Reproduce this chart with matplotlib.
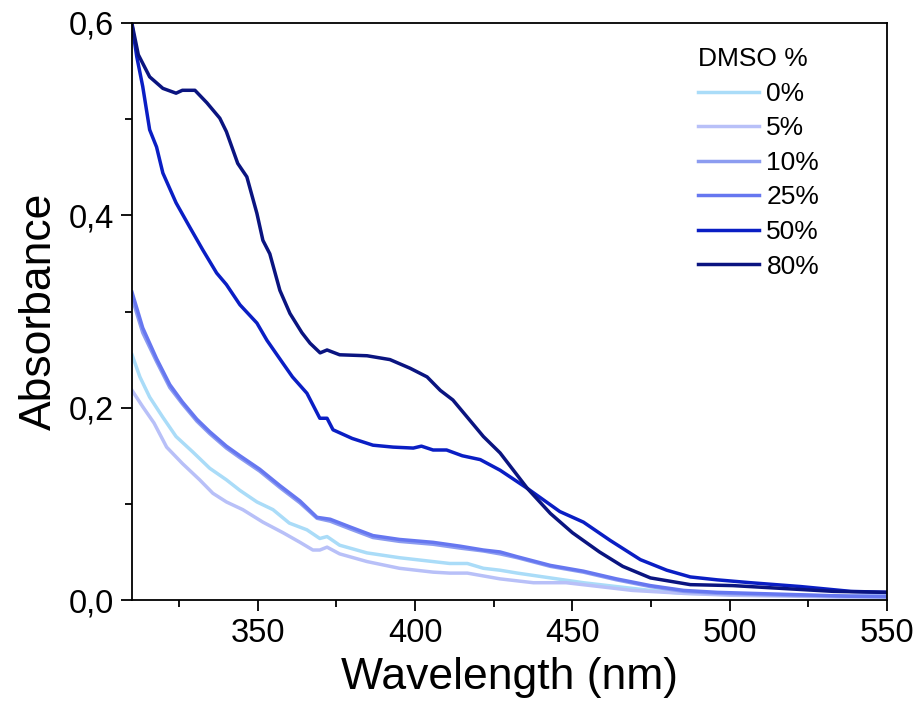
import matplotlib
matplotlib.use("Agg")
import matplotlib.pyplot as plt
from matplotlib.ticker import MultipleLocator, FuncFormatter

plt.rcParams["font.family"] = ["Liberation Sans", "DejaVu Sans"]

labels = ["0%", "5%", "10%", "25%", "50%", "80%"]
colors = ["#aadcf8", "#b8c0f8", "#8c9cf0", "#6677f0", "#0a1ec4", "#0a1480"]

# wavelength (nm) / absorbance
wl_0 = [310, 312.5, 315.6, 319.8, 324, 329.3, 334.7, 340, 344.3, 349.7, 354.8, 360, 365.6,
        369.7, 372, 376, 384.7, 395, 405.7, 411, 416.6, 421.7, 427, 432.5, 443, 453.5, 464,
        474.8, 485, 500, 520, 535, 550]
abs_0 = [0.255, 0.232, 0.211, 0.190, 0.170, 0.154, 0.137, 0.125, 0.114, 0.102, 0.094, 0.080, 0.073,
         0.064, 0.066, 0.057, 0.049, 0.044, 0.040, 0.038, 0.038, 0.033, 0.031, 0.028, 0.023, 0.018, 0.014,
         0.010, 0.007, 0.006, 0.005, 0.004, 0.004]

wl_5 = [310, 313.4, 317, 321, 326, 331.5, 335.7, 340, 345.2, 351.6, 358, 363.4, 367.5, 369.7,
        372, 376, 384.7, 395, 405.7, 411, 416.6, 427, 437.6, 448, 458.6, 469, 485, 500, 520, 535, 550]
abs_5 = [0.218, 0.201, 0.184, 0.159, 0.142, 0.125, 0.111, 0.102, 0.094, 0.081, 0.070, 0.060, 0.052, 0.052,
         0.055, 0.048, 0.040, 0.033, 0.029, 0.028, 0.028, 0.022, 0.018, 0.018, 0.014, 0.010, 0.007, 0.005,
         0.004, 0.003, 0.003]

wl_10 = [310, 313.4, 317.8, 322, 326, 330.6, 334.7, 340, 344.3, 350.6, 357, 363.4, 368.8, 373,
         379.3, 386.6, 395, 405.7, 414.3, 421.7, 427, 432.5, 443, 453.5, 464, 474.8, 485.4, 496,
         517, 538, 550]
abs_10 = [0.314, 0.278, 0.248, 0.221, 0.204, 0.186, 0.173, 0.158, 0.148, 0.134, 0.117, 0.101, 0.085, 0.082,
          0.074, 0.065, 0.061, 0.058, 0.054, 0.051, 0.048, 0.044, 0.035, 0.029, 0.021, 0.014, 0.009, 0.007,
          0.005, 0.004, 0.003]

wl_25 = wl_10
abs_25 = [0.320, 0.283, 0.251, 0.224, 0.206, 0.188, 0.175, 0.160, 0.150, 0.136, 0.119, 0.103, 0.086, 0.084,
          0.076, 0.067, 0.063, 0.060, 0.056, 0.052, 0.050, 0.045, 0.036, 0.030, 0.022, 0.015, 0.010, 0.008,
          0.006, 0.004, 0.004]

wl_50 = [310, 311.5, 313.4, 315.6, 317.8, 319.8, 324, 328.3, 332.5, 336.9, 340, 344.3, 349.7, 352.9,
         358, 361, 365.6, 369.7, 372, 373.9, 380, 386.6, 393, 399.4, 402, 405.7, 410, 415, 420.7,
         427, 435.7, 446, 453.5, 462, 471.6, 480, 487.5, 496, 506.7, 522.6, 538.5, 550]
abs_50 = [0.598, 0.565, 0.534, 0.489, 0.471, 0.444, 0.413, 0.388, 0.364, 0.340, 0.328, 0.307, 0.288, 0.270,
          0.246, 0.232, 0.215, 0.189, 0.189, 0.177, 0.168, 0.161, 0.159, 0.158, 0.160, 0.156, 0.156, 0.150, 0.146,
          0.135, 0.116, 0.092, 0.081, 0.062, 0.042, 0.031, 0.024, 0.021, 0.018, 0.014, 0.009, 0.008]

wl_80 = [310, 312, 315.6, 319.8, 324, 326, 330, 333.8, 337.9, 340, 343.6, 346.5, 349.7, 351.6, 353.8,
         357, 360.2, 364, 366.6, 369.8, 372, 376, 384.7, 392, 398.4, 403.8, 408, 412, 416.6, 421.7,
         427, 435.7, 443, 450, 458.6, 466, 474.8, 487.5, 501, 517, 533, 550]
abs_80 = [0.599, 0.567, 0.544, 0.532, 0.527, 0.530, 0.530, 0.517, 0.501, 0.487, 0.454, 0.440, 0.402, 0.374, 0.360,
          0.322, 0.298, 0.278, 0.267, 0.257, 0.260, 0.255, 0.254, 0.250, 0.241, 0.232, 0.218, 0.208, 0.190, 0.170,
          0.153, 0.116, 0.090, 0.070, 0.050, 0.035, 0.023, 0.016, 0.015, 0.012, 0.009, 0.008]

series = [(wl_0, abs_0), (wl_5, abs_5), (wl_10, abs_10), (wl_25, abs_25), (wl_50, abs_50), (wl_80, abs_80)]

fig = plt.figure(figsize=(9.22, 7.18), dpi=100)
ax = fig.add_axes([0.1432, 0.1643, 0.8188, 0.8037])

for (x, y), lab, c in zip(series, labels, colors):
    ax.plot(x, y, color=c, linewidth=2.5, label=lab)

ax.set_xlim(310, 550)
ax.set_ylim(0, 0.6)
ax.xaxis.set_major_locator(MultipleLocator(50))
ax.xaxis.set_minor_locator(MultipleLocator(25))
ax.yaxis.set_major_locator(MultipleLocator(0.2))
ax.yaxis.set_minor_locator(MultipleLocator(0.1))
ax.yaxis.set_major_formatter(FuncFormatter(lambda v, p: f"{v:.1f}".replace(".", ",")))

ax.tick_params(which="major", direction="out", length=8, width=1.3, labelsize=23.5, pad=5)
ax.tick_params(which="minor", direction="out", length=5, width=1.3)
for s in ax.spines.values():
    s.set_linewidth(1.3)

ax.set_xlabel("Wavelength (nm)", fontsize=32, labelpad=6)
ax.set_ylabel("Absorbance", fontsize=32, labelpad=6)

leg = ax.legend(title="DMSO %", frameon=False, fontsize=19, title_fontsize=19,
                loc="upper left", bbox_to_anchor=(0.725, 0.99), handlelength=2.3,
                handletextpad=0.3, labelspacing=0.4, borderaxespad=0.3)
leg._legend_box.align = "left"

fig.savefig("out.png", dpi=100)
